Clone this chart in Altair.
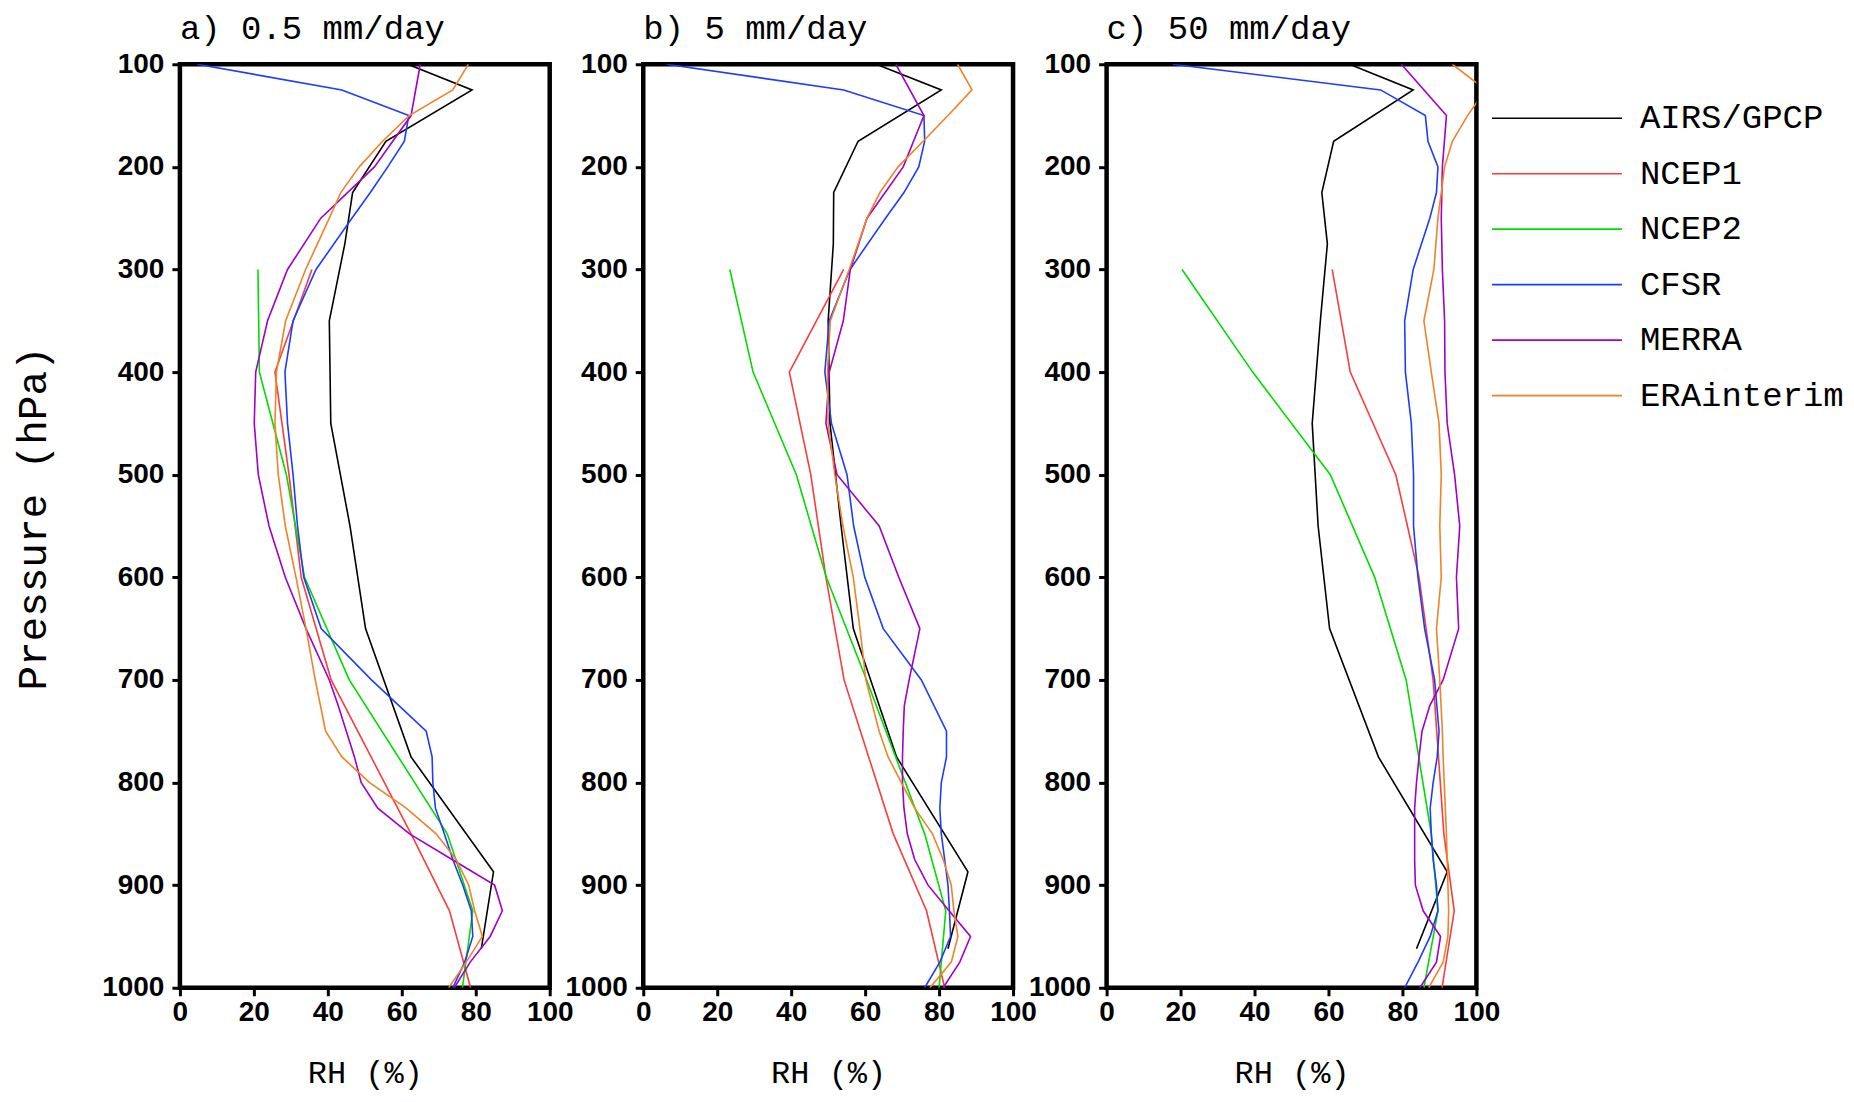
import altair as alt
import pandas as pd

# ---------------- data ----------------
NAMES = ["AIRS/GPCP", "NCEP1", "NCEP2", "CFSR", "MERRA", "ERAinterim"]
COLORS = ["#000000", "#fa3c3c", "#00dc00", "#1e3cff", "#a000c8", "#f08228"]

PANELS = ["a", "b", "c"]
PANEL_TITLES = ["a) 0.5 mm/day", "b) 5 mm/day", "c) 50 mm/day"]

LEV_AIRS = [100, 125, 175, 225, 275, 350, 450, 550, 650, 775, 887, 962]
LEV_NCEP = [300, 400, 500, 600, 700, 850, 925, 1000]
LEV_STD = [100, 125, 150, 175, 200, 225, 250, 300, 350, 400, 450, 500, 550, 600,
           650, 700, 750, 775, 800, 825, 850, 875, 900, 925, 950, 975, 1000]
LEV_MERRA = [100, 150, 200, 250, 300, 350, 400, 450, 500, 550, 600, 650, 700, 725,
             750, 775, 800, 825, 850, 875, 900, 925, 950, 975, 1000]

# panel a) 0.5 mm/day
AIRS_A = [61.6, 79.0, 55.7, 46.7, 44.6, 40.4, 40.8, 46.0, 50.2, 62.5, 84.8, 81.5]
NCEP1_A = [35.7, 25.7, 29.5, 32.8, 40.9, 62.5, 72.9, 78.6]
NCEP2_A = [21.1, 21.5, 28.8, 33.7, 45.8, 72.3, 79.2, 76.4]
CFSR_A = [4.7, 43.8, 61.9, 60.7, 56.2, 51.5, 46.5, 36.8, 30.6, 28.4, 29.1, 30.6, 31.8, 33.5,
          38.2, 51.8, 66.6, 68.2, 68.4, 69.1, 71.5, 73.8, 76.5, 78.8, 79.2, 77.0, 73.8]
MERRA_A = [65.0, 62.5, 52.6, 38.1, 29.1, 23.7, 20.5, 20.1, 21.2, 24.1, 28.5, 34.1, 40.4, 42.8,
           45.0, 47.2, 49.0, 53.5, 62.1, 73.6, 85.1, 87.2, 83.9, 78.5, 74.2]
ERA_A = [78.0, 73.8, 62.0, 54.8, 48.5, 43.5, 40.4, 34.0, 28.6, 26.1, 25.7, 26.6, 28.5, 31.4,
         34.1, 36.6, 39.4, 43.8, 51.3, 61.2, 69.3, 74.7, 78.1, 79.7, 81.8, 77.4, 72.7]

# panel b) 5 mm/day
AIRS_B = [63.0, 80.6, 58.1, 51.5, 51.4, 50.0, 50.5, 53.5, 56.8, 68.5, 87.8, 82.4]
NCEP1_B = [54.2, 39.5, 45.3, 49.4, 54.3, 67.6, 76.6, 81.5]
NCEP2_B = [23.4, 29.7, 41.4, 49.5, 60.4, 76.1, 81.8, 80.0]
CFSR_B = [6.3, 54.2, 75.9, 76.1, 74.5, 70.5, 65.5, 55.9, 50.3, 49.1, 50.9, 55.1, 56.9, 59.9,
          64.9, 75.2, 82.0, 82.0, 80.6, 80.2, 80.6, 81.5, 82.4, 82.8, 83.1, 80.2, 76.1]
MERRA_B = [68.3, 75.9, 70.3, 60.5, 56.0, 54.1, 50.3, 49.4, 52.4, 63.8, 69.1, 74.8, 71.9, 70.6,
           70.3, 70.1, 70.1, 70.5, 71.4, 73.4, 77.0, 82.7, 88.5, 85.6, 81.1]
ERA_B = [85.0, 88.9, 82.4, 75.7, 68.9, 64.0, 60.5, 55.7, 50.6, 49.8, 50.0, 51.8, 54.0, 56.8,
         58.6, 60.2, 63.8, 66.2, 69.8, 73.4, 78.2, 81.1, 83.3, 84.0, 85.1, 83.3, 77.5]

# panel c) 50 mm/day
AIRS_C = [65.7, 82.9, 61.4, 58.2, 59.7, 57.8, 55.6, 57.2, 60.3, 73.5, 92.1, 83.8]
NCEP1_C = [61.0, 65.9, 78.2, 84.5, 88.3, 91.2, 94.0, 90.7]
NCEP2_C = [20.4, 39.5, 60.5, 72.5, 81.0, 87.8, 89.6, 85.8]
CFSR_C = [17.9, 74.1, 86.2, 86.9, 89.6, 89.2, 87.4, 82.9, 80.6, 80.8, 82.4, 83.0, 83.0, 84.2,
          86.0, 88.7, 89.9, 89.4, 88.3, 87.5, 87.8, 88.3, 89.2, 89.6, 87.5, 84.2, 80.6]
MERRA_C = [79.7, 91.9, 90.8, 90.5, 90.8, 91.4, 91.5, 92.1, 94.1, 95.5, 94.6, 95.2, 91.0, 87.4,
           85.3, 84.5, 83.8, 83.3, 83.3, 83.3, 83.5, 85.6, 90.3, 89.2, 84.7]
ERA_C = [93.5, 102.5, 97.6, 93.5, 91.4, 90.5, 89.6, 88.5, 85.8, 87.8, 89.9, 90.5, 90.1, 90.5,
         89.2, 90.1, 90.8, 91.0, 91.3, 91.6, 91.9, 92.1, 92.3, 92.5, 92.3, 91.0, 87.1]

X_TICKS = [0, 20, 40, 60, 80, 100]
Y_TICKS = [100, 200, 300, 400, 500, 600, 700, 800, 900, 1000]

# ---------------- long table ----------------
LEVELS = [LEV_AIRS, LEV_NCEP, LEV_NCEP, LEV_STD, LEV_MERRA, LEV_STD]
SERIES = {
    "a": [AIRS_A, NCEP1_A, NCEP2_A, CFSR_A, MERRA_A, ERA_A],
    "b": [AIRS_B, NCEP1_B, NCEP2_B, CFSR_B, MERRA_B, ERA_B],
    "c": [AIRS_C, NCEP1_C, NCEP2_C, CFSR_C, MERRA_C, ERA_C],
}
rows = []
for pk in PANELS:
    for name, levs, vals in zip(NAMES, LEVELS, SERIES[pk]):
        for p, v in zip(levs, vals):
            rows.append({"panel": pk, "name": name, "p": p, "rh": v})
df = pd.DataFrame(rows)

THIN = "Liberation Mono"
BOLD = "Liberation Sans"
PW, PH, GAP = 370, 924, 93.6

color_scale = alt.Scale(domain=NAMES, range=COLORS)


def panel(key, title, first):
    if first:
        yaxis = alt.Axis(values=Y_TICKS, format="d", title="Pressure (hPa)", titleY=454)
    else:
        yaxis = alt.Axis(values=Y_TICKS, format="d", title=None)
    return (
        alt.Chart(df)
        .transform_filter(alt.datum.panel == key)
        .mark_line(clip=True, strokeWidth=1.6)
        .encode(
            x=alt.X("rh:Q", scale=alt.Scale(domain=[0, 100], nice=False, zero=False),
                    axis=alt.Axis(values=X_TICKS, format="d", title="RH (%)")),
            y=alt.Y("p:Q", scale=alt.Scale(domain=[100, 1000], reverse=True, nice=False, zero=False),
                    axis=yaxis),
            color=alt.Color("name:N", scale=color_scale, legend=None),
            order=alt.Order("p:Q"),
        )
        .properties(width=PW, height=PH,
                    title=alt.TitleParams(title, anchor="start", frame="group"))
    )


pa = panel("a", PANEL_TITLES[0], True)
pb = panel("b", PANEL_TITLES[1], False)
pc = panel("c", PANEL_TITLES[2], False)

# legend drawn as its own small panel to the right of panel c
leg_df = pd.DataFrame({"name": NAMES})
leg_y = alt.Y("name:N", sort=NAMES,
              scale=alt.Scale(type="point", domain=NAMES, range=[54, 331.5], padding=0),
              axis=None)
leg_rule = alt.Chart(leg_df).mark_rule(strokeWidth=1.6).encode(
    x=alt.value(-78), x2=alt.value(52), y=leg_y,
    color=alt.Color("name:N", scale=color_scale, legend=None),
)
leg_text = alt.Chart(leg_df).mark_text(
    align="left", baseline="middle", fontSize=34, font=THIN, color="black"
).encode(x=alt.value(70), y=leg_y, text="name:N")
legend = alt.layer(leg_rule, leg_text).properties(
    width=260, height=PH, view=alt.ViewBackground(stroke=None)
)

chart = (
    alt.hconcat(pa, pb, pc, legend, spacing=GAP, bounds="flush")
    .properties(padding={"left": 2, "top": 1, "right": 2, "bottom": 0})
    .configure_view(stroke="black", strokeWidth=4.5)
    .configure_axis(domain=False, grid=False, ticks=True, tickColor="black", tickWidth=3,
                    tickSize=8, labelFont=BOLD, labelFontWeight="bold", labelColor="black",
                    titleFont=THIN, titleFontWeight="normal", titleColor="black",
                    labelFlush=False, labelOverlap=False)
    .configure_axisX(labelFontSize=28, labelPadding=3, titleFontSize=32, titlePadding=31)
    .configure_axisY(labelFontSize=28, labelPadding=8, titleFontSize=41, titlePadding=47)
    .configure_title(font=THIN, fontSize=34, fontWeight="normal", color="black",
                     baseline="alphabetic", offset=4)
)

chart.save("out.html", embed_options={"renderer": "svg", "actions": False})
